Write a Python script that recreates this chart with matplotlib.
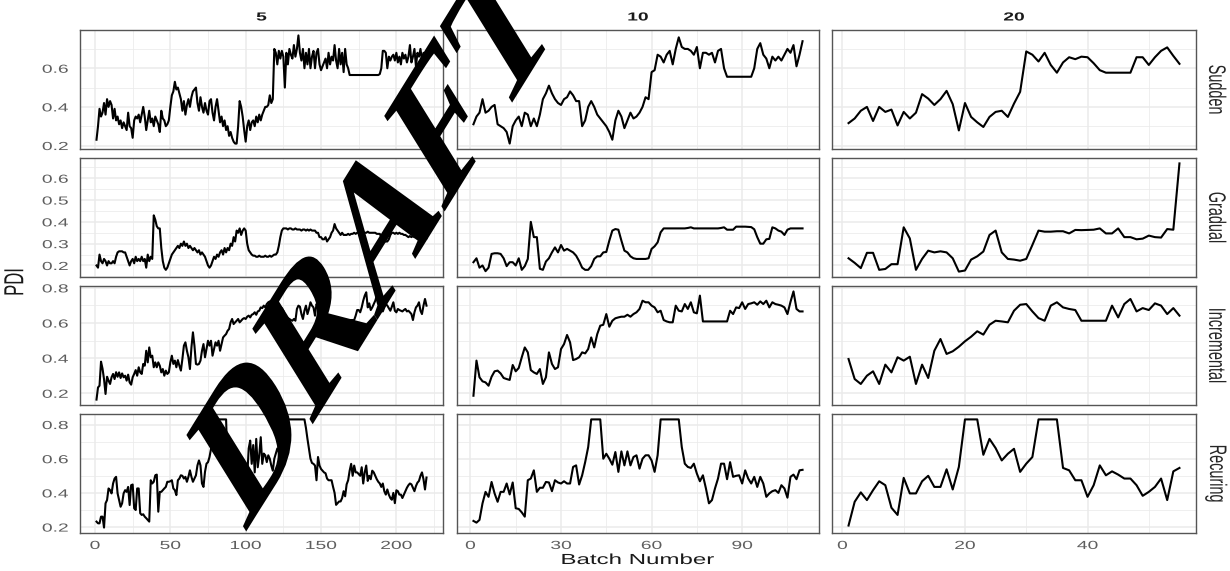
import matplotlib
matplotlib.use("Agg")
import matplotlib.pyplot as plt
import numpy as np
import matplotlib.patheffects as pe
from matplotlib.transforms import Affine2D
from matplotlib.ticker import FixedLocator, FormatStrFormatter

# ---------------- data ----------------
drift_types = ["Sudden", "Gradual", "Incremental", "Recuring"]
batch_sizes = ["5", "10", "20"]

sudden_5 = [
 0.23, 0.30, 0.39, 0.35, 0.37, 0.42, 0.36, 0.44, 0.40, 0.43,
 0.41, 0.34, 0.39, 0.33, 0.35, 0.31, 0.33, 0.29, 0.32, 0.30,
 0.28, 0.37, 0.30, 0.29, 0.24, 0.33, 0.35, 0.34, 0.36, 0.32,
 0.36, 0.40, 0.35, 0.28, 0.33, 0.38, 0.32, 0.34, 0.30, 0.35,
 0.33, 0.31, 0.27, 0.38, 0.34, 0.33, 0.30, 0.31, 0.33, 0.40,
 0.46, 0.48, 0.53, 0.49, 0.50, 0.47, 0.44, 0.38, 0.43, 0.36,
 0.41, 0.44, 0.40, 0.45, 0.48, 0.49, 0.50, 0.42, 0.38, 0.45,
 0.40, 0.37, 0.42, 0.38, 0.36, 0.43, 0.44, 0.37, 0.33, 0.40,
 0.44, 0.38, 0.32, 0.35, 0.30, 0.33, 0.28, 0.30, 0.25, 0.27,
 0.24, 0.22, 0.21, 0.21, 0.30, 0.43, 0.40, 0.35, 0.28, 0.22,
 0.30, 0.33, 0.28, 0.32, 0.33, 0.30, 0.35, 0.32, 0.36, 0.33,
 0.36, 0.38, 0.40, 0.40, 0.41, 0.46, 0.42, 0.44, 0.70, 0.68,
 0.62, 0.69, 0.65, 0.69, 0.66, 0.50, 0.68, 0.62, 0.70, 0.67,
 0.65, 0.72, 0.66, 0.70, 0.77, 0.68, 0.64, 0.70, 0.60, 0.68,
 0.62, 0.70, 0.60, 0.66, 0.69, 0.60, 0.68, 0.70, 0.62, 0.59,
 0.61, 0.63, 0.65, 0.60, 0.68, 0.62, 0.66, 0.64, 0.72, 0.64,
 0.60, 0.70, 0.62, 0.68, 0.58, 0.70, 0.62, 0.60, 0.565, 0.565,
 0.565, 0.565, 0.565, 0.565, 0.565, 0.565, 0.565, 0.565, 0.565, 0.565,
 0.565, 0.565, 0.565, 0.565, 0.565, 0.565, 0.565, 0.565, 0.57, 0.60,
 0.69, 0.69, 0.68, 0.60, 0.66, 0.64, 0.66, 0.67, 0.64, 0.68,
 0.63, 0.66, 0.62, 0.68, 0.65, 0.67, 0.63, 0.66, 0.72, 0.63,
 0.66, 0.70, 0.61, 0.68, 0.66, 0.70, 0.64, 0.68, 0.66, 0.65,
]
sudden_10 = [
 0.31, 0.35, 0.37, 0.44, 0.37, 0.38, 0.40, 0.41, 0.31, 0.30,
 0.29, 0.27, 0.21, 0.30, 0.33, 0.35, 0.30, 0.37, 0.36, 0.30,
 0.34, 0.30, 0.36, 0.44, 0.47, 0.51, 0.47, 0.44, 0.42, 0.41,
 0.44, 0.45, 0.48, 0.46, 0.43, 0.43, 0.30, 0.33, 0.40, 0.43,
 0.40, 0.36, 0.34, 0.32, 0.30, 0.27, 0.23, 0.33, 0.38, 0.35,
 0.29, 0.33, 0.37, 0.34, 0.35, 0.37, 0.40, 0.45, 0.44, 0.58,
 0.59, 0.67, 0.66, 0.63, 0.67, 0.69, 0.62, 0.70, 0.76, 0.71,
 0.70, 0.70, 0.69, 0.67, 0.71, 0.60, 0.68, 0.68, 0.67, 0.68,
 0.63, 0.69, 0.70, 0.60, 0.556, 0.556, 0.556, 0.556, 0.556, 0.556,
 0.556, 0.556, 0.556, 0.60, 0.70, 0.73, 0.67, 0.65, 0.60, 0.66,
 0.64, 0.66, 0.64, 0.67, 0.70, 0.68, 0.72, 0.61, 0.67, 0.74,
]
sudden_20 = [
 0.316, 0.34, 0.38, 0.40, 0.327, 0.40, 0.374, 0.386, 0.304, 0.374,
 0.34, 0.37, 0.466, 0.443, 0.41, 0.44, 0.483, 0.414, 0.278, 0.42,
 0.348, 0.32, 0.296, 0.348, 0.374, 0.38, 0.348, 0.417, 0.478, 0.687,
 0.67, 0.635, 0.68, 0.617, 0.577, 0.63, 0.657, 0.647, 0.66, 0.657,
 0.626, 0.59, 0.577, 0.577, 0.577, 0.577, 0.577, 0.657, 0.657, 0.617,
 0.657, 0.69, 0.708, 0.664, 0.623,
]

gradual_5 = [
 0.20, 0.19, 0.25, 0.22, 0.21, 0.23, 0.22, 0.20, 0.22, 0.21,
 0.21, 0.22, 0.21, 0.24, 0.26, 0.265, 0.265, 0.265, 0.26, 0.26,
 0.24, 0.22, 0.20, 0.22, 0.23, 0.21, 0.24, 0.22, 0.23, 0.22,
 0.24, 0.22, 0.23, 0.19, 0.25, 0.22, 0.24, 0.23, 0.43, 0.41,
 0.38, 0.37, 0.37, 0.28, 0.22, 0.19, 0.18, 0.19, 0.21, 0.23,
 0.25, 0.26, 0.27, 0.28, 0.29, 0.28, 0.30, 0.29, 0.31, 0.29,
 0.30, 0.28, 0.29, 0.28, 0.27, 0.28, 0.27, 0.26, 0.27, 0.25,
 0.26, 0.25, 0.24, 0.22, 0.20, 0.19, 0.20, 0.22, 0.24, 0.23,
 0.25, 0.24, 0.26, 0.27, 0.25, 0.28, 0.26, 0.28, 0.27, 0.30,
 0.29, 0.33, 0.31, 0.36, 0.35, 0.37, 0.34, 0.36, 0.37, 0.36,
 0.30, 0.27, 0.26, 0.25, 0.245, 0.245, 0.24, 0.24, 0.245, 0.24,
 0.24, 0.24, 0.245, 0.24, 0.24, 0.245, 0.24, 0.245, 0.25, 0.25,
 0.26, 0.29, 0.33, 0.36, 0.37, 0.37, 0.37, 0.365, 0.37, 0.37,
 0.365, 0.365, 0.37, 0.365, 0.365, 0.365, 0.36, 0.365, 0.365, 0.36,
 0.365, 0.36, 0.365, 0.36, 0.36, 0.36, 0.35, 0.35, 0.33, 0.33,
 0.32, 0.32, 0.33, 0.31, 0.32, 0.33, 0.35, 0.36, 0.39, 0.37,
 0.36, 0.35, 0.34, 0.35, 0.34, 0.34, 0.34, 0.345, 0.34, 0.345,
 0.345, 0.35, 0.345, 0.35, 0.35, 0.35, 0.355, 0.35, 0.35, 0.35,
 0.355, 0.35, 0.35, 0.35, 0.35, 0.35, 0.345, 0.345, 0.345, 0.33,
 0.31, 0.31, 0.31, 0.31, 0.32, 0.34, 0.35, 0.35, 0.345, 0.35,
 0.345, 0.35, 0.345, 0.345, 0.34, 0.34, 0.335, 0.33, 0.335, 0.33,
 0.335, 0.33, 0.33, 0.335, 0.33, 0.33, 0.335, 0.33, 0.325, 0.325,
]
gradual_10 = [
 0.215, 0.233, 0.19, 0.20, 0.174, 0.19, 0.253, 0.256, 0.256, 0.253,
 0.233, 0.197, 0.215, 0.215, 0.20, 0.233, 0.18, 0.197, 0.23, 0.40,
 0.33, 0.33, 0.185, 0.18, 0.218, 0.233, 0.26, 0.283, 0.26, 0.294,
 0.268, 0.276, 0.268, 0.26, 0.245, 0.22, 0.19, 0.18, 0.18, 0.197,
 0.23, 0.242, 0.242, 0.26, 0.262, 0.314, 0.36, 0.367, 0.364, 0.314,
 0.268, 0.26, 0.242, 0.233, 0.23, 0.23, 0.23, 0.23, 0.233, 0.276,
 0.288, 0.306, 0.352, 0.37, 0.37, 0.37, 0.37, 0.37, 0.37, 0.37,
 0.37, 0.372, 0.375, 0.37, 0.37, 0.37, 0.37, 0.37, 0.37, 0.37,
 0.37, 0.37, 0.372, 0.375, 0.364, 0.364, 0.364, 0.378, 0.378, 0.378,
 0.378, 0.377, 0.376, 0.366, 0.33, 0.30, 0.30, 0.32, 0.322, 0.375,
 0.37, 0.36, 0.355, 0.34, 0.364, 0.37, 0.37, 0.37, 0.37, 0.37,
]
gradual_20 = [
 0.233, 0.212, 0.188, 0.258, 0.258, 0.18, 0.184, 0.206, 0.206, 0.375,
 0.324, 0.18, 0.23, 0.268, 0.26, 0.265, 0.26, 0.233, 0.172, 0.177,
 0.227, 0.242, 0.264, 0.34, 0.36, 0.26, 0.23, 0.227, 0.222, 0.23,
 0.294, 0.36, 0.355, 0.355, 0.357, 0.357, 0.347, 0.363, 0.362, 0.363,
 0.364, 0.37, 0.347, 0.347, 0.37, 0.33, 0.33, 0.32, 0.323, 0.337,
 0.33, 0.328, 0.367, 0.364, 0.668,
]

incremental_5 = [
 0.164, 0.233, 0.243, 0.38, 0.34, 0.28, 0.196, 0.294, 0.272, 0.253,
 0.291, 0.31, 0.281, 0.32, 0.294, 0.319, 0.287, 0.313, 0.291, 0.30,
 0.272, 0.306, 0.262, 0.249, 0.291, 0.31, 0.332, 0.30, 0.348, 0.319,
 0.31, 0.367, 0.357, 0.442, 0.376, 0.461, 0.405, 0.414, 0.348, 0.376,
 0.348, 0.376, 0.357, 0.319, 0.338, 0.30, 0.329, 0.31, 0.319, 0.376,
 0.414, 0.367, 0.386, 0.348, 0.389, 0.357, 0.329, 0.395, 0.471, 0.49,
 0.442, 0.405, 0.338, 0.461, 0.547, 0.471, 0.367, 0.363, 0.367, 0.386,
 0.442, 0.48, 0.405, 0.452, 0.499, 0.471, 0.499, 0.414, 0.452, 0.49,
 0.471, 0.499, 0.442, 0.48, 0.518, 0.528, 0.537, 0.556, 0.566, 0.604,
 0.623, 0.594, 0.604, 0.613, 0.623, 0.604, 0.613, 0.623, 0.628, 0.623,
 0.636, 0.642, 0.632, 0.647, 0.651, 0.661, 0.647, 0.666, 0.67, 0.689,
 0.685, 0.699, 0.689, 0.708, 0.718, 0.723, 0.712, 0.723, 0.718, 0.708,
 0.712, 0.699, 0.689, 0.685, 0.67, 0.642, 0.623, 0.628, 0.623, 0.617,
 0.613, 0.623, 0.613, 0.68, 0.699, 0.693, 0.651, 0.623, 0.67, 0.699,
 0.651, 0.68, 0.718, 0.699, 0.689, 0.642, 0.708, 0.689, 0.632, 0.699,
 0.708, 0.708, 0.661, 0.617, 0.617, 0.617, 0.617, 0.617, 0.617, 0.617,
 0.617, 0.617, 0.617, 0.617, 0.617, 0.617, 0.617, 0.617, 0.617, 0.617,
 0.617, 0.617, 0.642, 0.674, 0.674, 0.661, 0.689, 0.727, 0.756, 0.775,
 0.689, 0.712, 0.674, 0.689, 0.708, 0.727, 0.756, 0.746, 0.68, 0.708,
 0.666, 0.689, 0.708, 0.699, 0.685, 0.67, 0.693, 0.718, 0.67, 0.661,
 0.68, 0.674, 0.67, 0.666, 0.674, 0.68, 0.666, 0.67, 0.661, 0.651,
 0.617, 0.661, 0.689, 0.699, 0.718, 0.67, 0.651, 0.699, 0.737, 0.699,
]
incremental_10 = [
 0.186, 0.386, 0.291, 0.268, 0.262, 0.243, 0.294, 0.325, 0.329, 0.313,
 0.287, 0.281, 0.276, 0.361, 0.325, 0.344, 0.405, 0.461, 0.433, 0.332,
 0.319, 0.31, 0.338, 0.253, 0.291, 0.433, 0.367, 0.338, 0.348, 0.452,
 0.48, 0.532, 0.49, 0.389, 0.395, 0.405, 0.433, 0.427, 0.452, 0.518,
 0.461, 0.537, 0.585, 0.59, 0.651, 0.579, 0.613, 0.627, 0.632, 0.636,
 0.636, 0.647, 0.636, 0.651, 0.661, 0.68, 0.727, 0.718, 0.718, 0.699,
 0.689, 0.661, 0.67, 0.617, 0.609, 0.604, 0.604, 0.699, 0.67, 0.666,
 0.708, 0.68, 0.718, 0.661, 0.655, 0.756, 0.609, 0.609, 0.609, 0.609,
 0.609, 0.609, 0.609, 0.609, 0.609, 0.67, 0.651, 0.689, 0.685, 0.718,
 0.68, 0.708, 0.712, 0.718, 0.704, 0.723, 0.708, 0.727, 0.689, 0.718,
 0.708, 0.704, 0.699, 0.689, 0.651, 0.72, 0.78, 0.68, 0.666, 0.666,
]
incremental_20 = [
 0.395, 0.281, 0.253, 0.30, 0.325, 0.253, 0.363, 0.319, 0.405, 0.386,
 0.408, 0.253, 0.363, 0.287, 0.442, 0.509, 0.424, 0.439, 0.465, 0.496,
 0.522, 0.553, 0.534, 0.59, 0.613, 0.609, 0.604, 0.67, 0.704, 0.708,
 0.666, 0.628, 0.613, 0.699, 0.718, 0.689, 0.68, 0.674, 0.613, 0.613,
 0.613, 0.613, 0.613, 0.699, 0.632, 0.708, 0.737, 0.666, 0.685, 0.674,
 0.712, 0.699, 0.651, 0.685, 0.642,
]

recurring_5 = [
 0.232, 0.222, 0.222, 0.261, 0.261, 0.197, 0.339, 0.358, 0.426, 0.416,
 0.397, 0.455, 0.484, 0.494, 0.397, 0.358, 0.319, 0.339, 0.397, 0.416,
 0.406, 0.435, 0.329, 0.445, 0.449, 0.31, 0.30, 0.426, 0.426, 0.281,
 0.271, 0.275, 0.261, 0.252, 0.242, 0.232, 0.474, 0.455, 0.465, 0.503,
 0.507, 0.29, 0.406, 0.406, 0.416, 0.426, 0.435, 0.465, 0.465, 0.468,
 0.474, 0.426, 0.416, 0.387, 0.474, 0.484, 0.503, 0.50, 0.484, 0.494,
 0.465, 0.494, 0.532, 0.494, 0.465, 0.484, 0.503, 0.561, 0.59, 0.561,
 0.455, 0.435, 0.523, 0.571, 0.58, 0.61, 0.658, 0.687, 0.77, 0.83,
 0.83, 0.83, 0.83, 0.83, 0.83, 0.83, 0.83, 0.55, 0.546, 0.62,
 0.65, 0.51, 0.63, 0.62, 0.62, 0.61, 0.60, 0.60, 0.585, 0.57,
 0.49, 0.66, 0.706, 0.57, 0.68, 0.52, 0.716, 0.55, 0.62, 0.726,
 0.57, 0.63, 0.62, 0.58, 0.62, 0.60, 0.56, 0.53, 0.60, 0.63,
 0.66, 0.64, 0.59, 0.58, 0.83, 0.83, 0.83, 0.83, 0.83, 0.83,
 0.83, 0.83, 0.83, 0.83, 0.83, 0.83, 0.83, 0.83, 0.83, 0.78,
 0.716, 0.66, 0.60, 0.575, 0.57, 0.56, 0.474, 0.61, 0.56, 0.54,
 0.53, 0.52, 0.515, 0.484, 0.474, 0.474, 0.474, 0.435, 0.40, 0.33,
 0.34, 0.35, 0.35, 0.37, 0.41, 0.38, 0.45, 0.474, 0.53, 0.57,
 0.50, 0.56, 0.52, 0.52, 0.51, 0.50, 0.55, 0.455, 0.52, 0.56,
 0.47, 0.50, 0.48, 0.53, 0.52, 0.50, 0.48, 0.465, 0.455, 0.435,
 0.455, 0.41, 0.39, 0.42, 0.39, 0.37, 0.36, 0.40, 0.34, 0.415,
 0.41, 0.39, 0.39, 0.37, 0.39, 0.41, 0.43, 0.445, 0.455, 0.45,
 0.43, 0.41, 0.44, 0.46, 0.47, 0.50, 0.52, 0.48, 0.42, 0.49,
]
recurring_10 = [
 0.236, 0.226, 0.242, 0.339, 0.406, 0.377, 0.464, 0.397, 0.348, 0.406,
 0.406, 0.455, 0.391, 0.461, 0.31, 0.306, 0.286, 0.261, 0.474, 0.484,
 0.532, 0.406, 0.43, 0.43, 0.464, 0.461, 0.41, 0.474, 0.461, 0.455,
 0.468, 0.455, 0.455, 0.552, 0.561, 0.449, 0.503, 0.58, 0.668, 0.83,
 0.83, 0.83, 0.83, 0.60, 0.629, 0.60, 0.565, 0.639, 0.523, 0.643,
 0.561, 0.643, 0.561, 0.61, 0.62, 0.542, 0.60, 0.62, 0.62, 0.59,
 0.523, 0.62, 0.83, 0.83, 0.83, 0.83, 0.83, 0.83, 0.83, 0.668,
 0.571, 0.552, 0.546, 0.571, 0.513, 0.468, 0.503, 0.426, 0.339, 0.358,
 0.426, 0.484, 0.571, 0.571, 0.48, 0.58, 0.494, 0.50, 0.503, 0.455,
 0.532, 0.484, 0.455, 0.494, 0.435, 0.494, 0.455, 0.377, 0.397, 0.41,
 0.416, 0.40, 0.445, 0.426, 0.372, 0.494, 0.507, 0.48, 0.532, 0.535,
]
recurring_20 = [
 0.209, 0.348, 0.403, 0.358, 0.416, 0.468, 0.445, 0.313, 0.271, 0.488,
 0.397, 0.397, 0.468, 0.50, 0.435, 0.435, 0.538, 0.42, 0.552, 0.83,
 0.83, 0.83, 0.623, 0.716, 0.662, 0.59, 0.629, 0.658, 0.523, 0.571,
 0.61, 0.83, 0.83, 0.83, 0.83, 0.546, 0.532, 0.474, 0.474, 0.377,
 0.445, 0.561, 0.503, 0.526, 0.507, 0.484, 0.484, 0.445, 0.383, 0.406,
 0.435, 0.484, 0.358, 0.526, 0.546,
]

x_major = [[0, 50, 100, 150, 200], [0, 30, 60, 90], [0, 20, 40]]
x_minor = [[25, 75, 125, 175, 225], [15, 45, 75, 105], [10, 30, 50]]
y_major = [[0.2, 0.4, 0.6], [0.2, 0.3, 0.4, 0.5, 0.6],
           [0.2, 0.4, 0.6, 0.8], [0.2, 0.4, 0.6, 0.8]]
y_minor = [[0.3, 0.5, 0.7], [0.15, 0.25, 0.35, 0.45, 0.55, 0.65],
           [0.3, 0.5, 0.7], [0.3, 0.5, 0.7]]

series = [
    [sudden_5, sudden_10, sudden_20],
    [gradual_5, gradual_10, gradual_20],
    [incremental_5, incremental_10, incremental_20],
    [recurring_5, recurring_10, recurring_20],
]


# ---------------- path effects ----------------
class Stretch(pe.AbstractPathEffect):
    """Widen text horizontally about an anchor (0 left, 0.5 centre, 1 right)."""
    def __init__(self, sx, frac=0.5):
        super().__init__()
        self._sx, self._frac = sx, frac

    def draw_path(self, renderer, gc, tpath, affine, rgbFace=None):
        ext = tpath.get_extents(affine)
        x0 = ext.x0 + self._frac * ext.width
        t = affine + Affine2D().translate(-x0, 0).scale(self._sx, 1.0).translate(x0, 0)
        renderer.draw_path(gc, tpath, t, rgbFace)


class Squash(pe.AbstractPathEffect):
    def __init__(self, cx, cy, sx):
        super().__init__()
        self._cx, self._cy, self._sx = cx, cy, sx

    def draw_path(self, renderer, gc, tpath, affine, rgbFace=None):
        t = affine + Affine2D().translate(-self._cx, -self._cy).scale(self._sx, 1.0).translate(self._cx, self._cy)
        renderer.draw_path(gc, tpath, t, rgbFace)


SX = 1.65
plt.rcParams["font.family"] = ["Liberation Sans", "DejaVu Sans"]

W, H = 1230, 571
fig = plt.figure(figsize=(W / 100, H / 100), dpi=100)
fig.patch.set_facecolor("white")

col_left = [80, 457, 832]
col_right = [443, 819, 1196]
row_top = [30, 158, 286, 414]
row_bot = [149, 277, 405, 533]

GRID = "#EBEBEB"
TICKC = "#5E5E5E"

axes = []
for r in range(4):
    vals_all = np.concatenate([np.asarray(v, float) for v in series[r]])
    lo, hi = vals_all.min(), vals_all.max()
    pad = 0.05 * (hi - lo)
    for c in range(3):
        ax = fig.add_axes([col_left[c] / W, 1 - row_bot[r] / H,
                           (col_right[c] - col_left[c]) / W,
                           (row_bot[r] - row_top[r]) / H])
        axes.append(ax)
        y = np.asarray(series[r][c], float)
        x = np.arange(1, len(y) + 1)
        ax.plot(x, y, color="black", lw=1.5, solid_joinstyle="round", zorder=3)
        xpad = 0.05 * (x[-1] - x[0])
        ax.set_xlim(x[0] - xpad, x[-1] + xpad)
        ax.set_ylim(lo - pad, hi + pad)
        ax.xaxis.set_major_locator(FixedLocator(x_major[c]))
        ax.xaxis.set_minor_locator(FixedLocator(x_minor[c]))
        ax.yaxis.set_major_locator(FixedLocator(y_major[r]))
        ax.yaxis.set_minor_locator(FixedLocator(y_minor[r]))
        ax.yaxis.set_major_formatter(FormatStrFormatter("%.1f"))
        ax.xaxis.set_major_formatter(FormatStrFormatter("%d"))
        ax.grid(which="major", color=GRID, lw=1.1, zorder=0)
        ax.grid(which="minor", color=GRID, lw=0.55, zorder=0)
        ax.set_axisbelow(True)
        ax.tick_params(which="both", length=0, labelsize=8.4, labelcolor=TICKC)
        ax.tick_params(axis="y", pad=8.5)
        ax.tick_params(axis="x", pad=5)
        if c != 0:
            ax.tick_params(axis="y", labelleft=False)
        if r != 3:
            ax.tick_params(axis="x", labelbottom=False)
        for sp in ax.spines.values():
            sp.set_color("#555555")
            sp.set_linewidth(1.0)
            sp.set_zorder(4)

# column strips
for c, lab in enumerate(batch_sizes):
    fig.text((col_left[c] + col_right[c]) / 2 / W, 1 - 17.5 / H, lab,
             ha="center", va="center", fontsize=8.4, fontweight="bold",
             color="#1A1A1A", path_effects=[Stretch(SX, 0.5)])
# row strips
for r, lab in enumerate(drift_types):
    fig.text(1216.5 / W, 1 - (row_top[r] + row_bot[r]) / 2 / H, lab,
             ha="center", va="center", rotation=-90, fontsize=10.4,
             color="#262626", path_effects=[Stretch(SX, 0.5)])

fig.text(15 / W, 1 - 282 / H, "PDI", rotation=90, ha="center", va="center",
         fontsize=12, color="#1A1A1A", path_effects=[Stretch(SX, 0.5)])
fig.text(638 / W, 1 - 560 / H, "Batch Number", ha="center", va="center",
         fontsize=10.5, color="#1A1A1A", path_effects=[Stretch(SX, 0.5)])

# watermark
cx, cy = 380, H - 245
fig.text(cx / W, cy / H, "DRAFT", rotation=45, ha="center", va="center",
         fontsize=150, fontweight="bold",
         family=["Liberation Serif", "DejaVu Serif"],
         color="black", zorder=20,
         path_effects=[Squash(cx, cy, 0.62)])

# widen tick labels like the reference (after ticks exist)
fig.canvas.draw()
for ax in axes:
    for t in ax.yaxis.get_major_ticks():
        t.label1.set_path_effects([Stretch(SX, 1.0)])
    for t in ax.xaxis.get_major_ticks():
        t.label1.set_path_effects([Stretch(SX, 0.5)])

fig.savefig("out.png", dpi=100, facecolor="white")
